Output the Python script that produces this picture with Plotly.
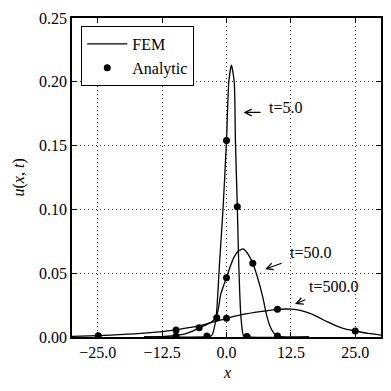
import plotly.graph_objects as go

# FEM curves
x_t5 = [-16, -4, -3.5, -3, -2.75, -2.5, -2, -1.35, -0.65, 0, 0.45, 0.96, 1.5, 1.73, 2.1, 2.37, 2.8, 3.3, 4, 16]
u_t5 = [0, 0, 0.0002, 0.0008, 0.002, 0.005, 0.0157, 0.058, 0.102, 0.154, 0.2, 0.213, 0.2, 0.154, 0.102, 0.058, 0.0157, 0.001, 0, 0]

x_t50 = [-16, -14, -12, -9.8, -8, -6.5, -5.3, -4, -3, -2, -1.5, -1.15, -0.5, 0, 0.7, 1.4, 2.2, 3.2, 4, 4.6, 5.1, 6, 7, 7.8, 8.5, 9.2, 9.9, 11, 16]
u_t50 = [0, 0.0001, 0.0004, 0.0012, 0.0025, 0.0048, 0.0073, 0.0095, 0.0115, 0.0155, 0.024, 0.033, 0.041, 0.0465, 0.055, 0.062, 0.067, 0.069, 0.066, 0.062, 0.0578, 0.047, 0.032, 0.017, 0.008, 0.003, 0.001, 0, 0]

x_t500 = [-30, -25, -20, -15.9, -12.5, -9.8, -7, -5, -2, 0, 3, 6.5, 10, 12.6, 14.5, 16.2, 18, 19.4, 21, 22.6, 25, 27.5, 30]
u_t500 = [0.0005, 0.0011, 0.002, 0.003, 0.0042, 0.0055, 0.0075, 0.009, 0.0123, 0.0146, 0.0175, 0.0199, 0.0217, 0.0218, 0.0207, 0.0186, 0.0152, 0.0122, 0.0093, 0.0068, 0.0047, 0.0028, 0.0015]

# analytic samples
xa_t5 = [-3.8, -1.9, 0, 2.1, 4]
ua_t5 = [0.0008, 0.0151, 0.154, 0.102, 0.0003]
xa_t50 = [-9.8, -5.3, 0, 5.1, 9.9]
ua_t50 = [0.0005, 0.0073, 0.0465, 0.0578, 0.0008]
xa_t500 = [-24.9, -9.8, 0, 9.9, 25]
ua_t500 = [0.001, 0.0055, 0.0146, 0.0218, 0.0047]

# labels: (text, text x, text y, arrow tail x, tail y, head x, head y)
etiquetas = [
    ("t=5.0", 7.8, 0.1795, 6.9, 0.176, 3.3, 0.176),
    ("t=50.0", 11.9, 0.0664, 11.0, 0.0583, 7.5, 0.0531),
    ("t=500.0", 15.7, 0.0394, 15.6, 0.0296, 13.3, 0.0259),
]

FONTE = "Liberation Serif, DejaVu Serif, serif"
TAM = 16

fig = go.Figure()

curvas = [(x_t5, u_t5), (x_t50, u_t50), (x_t500, u_t500)]
for i, (xs, us) in enumerate(curvas):
    fig.add_trace(go.Scatter(
        x=xs, y=us, mode='lines', name='FEM',
        line=dict(color='black', width=1.3, shape='spline', smoothing=0.6),
        legendgroup='fem', showlegend=(i == 0)
    ))

pontos = [(xa_t5, ua_t5), (xa_t50, ua_t50), (xa_t500, ua_t500)]
for i, (xs, us) in enumerate(pontos):
    fig.add_trace(go.Scatter(
        x=xs, y=us, mode='markers', name='Analytic',
        marker=dict(color='black', size=7),
        legendgroup='ana', showlegend=(i == 0)
    ))

for texto, tx, ty, ax, ay, hx, hy in etiquetas:
    fig.add_annotation(x=hx, y=hy, ax=ax, ay=ay, axref='x', ayref='y',
                       text='', showarrow=True, arrowhead=5, arrowsize=1.2,
                       arrowwidth=1.1, arrowcolor='black')
    fig.add_annotation(x=tx, y=ty, text=texto, showarrow=False,
                       xanchor='left', yanchor='middle',
                       font=dict(family=FONTE, size=TAM, color='black'))

# axis titles placed by hand
fig.add_annotation(x=0.5, y=0, xref='paper', yref='paper', yshift=-35,
                   text='<i>x</i>', showarrow=False, yanchor='middle',
                   font=dict(family=FONTE, size=TAM, color='black'))
fig.add_annotation(x=0, y=0.5, xref='paper', yref='paper', xshift=-54,
                   text='<i>u</i>(<i>x</i>, <i>t</i>)', showarrow=False, textangle=-90,
                   xanchor='center', yanchor='middle',
                   font=dict(family=FONTE, size=TAM, color='black'))

eixo = dict(
    showline=True, linecolor='black', linewidth=1.5, mirror='ticks',
    ticks='inside', ticklen=5, tickwidth=1, tickcolor='black',
    showgrid=True, gridcolor='#333333', griddash='1px,3px', gridwidth=1,
    zeroline=False, automargin=False,
    tickfont=dict(family=FONTE, size=TAM, color='black'),
)

fig.update_xaxes(**eixo, range=[-30, 30], tickvals=[-25, -12.5, 0, 12.5, 25],
                 tickformat='.1f')
fig.update_yaxes(**eixo, range=[0, 0.25], tickvals=[0, 0.05, 0.1, 0.15, 0.2, 0.25],
                 tickformat='.2f')

# the page body has an 8px default margin, so the figure is 8px smaller
fig.update_layout(
    width=383, height=383,
    margin=dict(l=64, r=10, t=10, b=54),
    plot_bgcolor='white', paper_bgcolor='white',
    font=dict(family=FONTE, size=TAM, color='black'),
    legend=dict(x=0.03, y=0.975, xanchor='left', yanchor='top',
                bordercolor='black', borderwidth=1, bgcolor='white',
                font=dict(family=FONTE, size=TAM, color='black'),
                itemwidth=40, tracegroupgap=0),
)

fig.write_html("out.html")
